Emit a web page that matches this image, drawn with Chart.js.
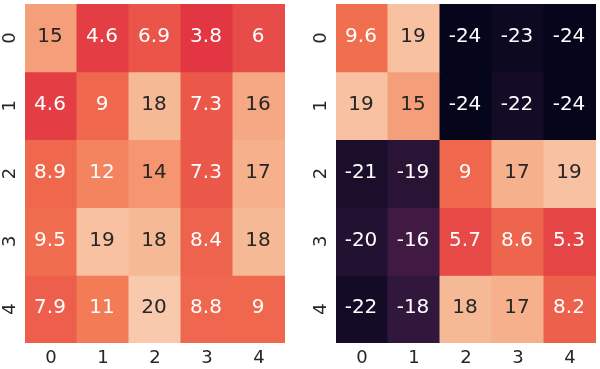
<!DOCTYPE html>
<html>
<head>
<meta charset="utf-8">
<script src="https://cdn.jsdelivr.net/npm/chart.js@4"></script>
<style>
    html, body { margin: 0; padding: 0; background: #fff; }
    .wrap { display: flex; width: 600px; height: 369px; }
    .cell { position: relative; width: 300px; height: 369px; }
</style>
</head>
<body>
<div class="wrap">
    <div class="cell"><canvas id="leftChart"></canvas></div>
    <div class="cell"><canvas id="rightChart"></canvas></div>
</div>
<script>
const colLabels = ['0', '1', '2', '3', '4'];
const rowLabels = ['0', '1', '2', '3', '4'];

const leftValues = [
    [15, 4.6, 6.9, 3.8, 6],
    [4.6, 9, 18, 7.3, 16],
    [8.9, 12, 14, 7.3, 17],
    [9.5, 19, 18, 8.4, 18],
    [7.9, 11, 20, 8.8, 9]
];

const rightValues = [
    [9.6, 19, -24, -23, -24],
    [19, 15, -24, -22, -24],
    [-21, -19, 9, 17, 19],
    [-20, -16, 5.7, 8.6, 5.3],
    [-22, -18, 18, 17, 8.2]
];

// shared colour range for both panels
const vmin = -24.3;
const vmax = 24.3;

// rough "rocket" colormap stops
const rocket = [
    [0.0, [3, 5, 26]],
    [0.143, [53, 25, 62]],
    [0.286, [112, 31, 87]],
    [0.429, [173, 23, 89]],
    [0.571, [225, 51, 66]],
    [0.714, [243, 118, 81]],
    [0.857, [246, 180, 143]],
    [1.0, [250, 235, 221]]
];

function rocketColor(v) {
    let t = (v - vmin) / (vmax - vmin);
    t = Math.max(0, Math.min(1, t));
    for (let i = 1; i < rocket.length; i++) {
        if (t <= rocket[i][0]) {
            const [t0, c0] = rocket[i - 1];
            const [t1, c1] = rocket[i];
            const f = (t - t0) / (t1 - t0);
            return c0.map((c, k) => Math.round(c + (c1[k] - c) * f));
        }
    }
    return rocket[rocket.length - 1][1];
}

function luminance(rgb) {
    const lin = rgb.map(c => {
        c = c / 255;
        return c <= 0.03928 ? c / 12.92 : Math.pow((c + 0.055) / 1.055, 2.4);
    });
    return 0.2126 * lin[0] + 0.7152 * lin[1] + 0.0722 * lin[2];
}

const annotatePlugin = {
    id: 'annotate',
    afterDatasetsDraw(chart) {
        const ctx = chart.ctx;
        ctx.save();
        ctx.font = '20px "DejaVu Sans"';
        ctx.textAlign = 'center';
        ctx.textBaseline = 'middle';
        chart.data.datasets.forEach((ds, i) => {
            const meta = chart.getDatasetMeta(i);
            meta.data.forEach((bar, j) => {
                const v = ds.values[j];
                const rgb = rocketColor(v);
                ctx.fillStyle = luminance(rgb) > 0.408 ? '#262626' : '#ffffff';
                const p = bar.getCenterPoint();
                ctx.fillText(String(v), p.x - 1, p.y - 1);
            });
        });
        ctx.restore();
    }
};

function renderHeatmap(id, values, yWidth, pad) {
    const ctx = document.getElementById(id).getContext('2d');
    const datasets = values.map((row, r) => ({
        label: 'row ' + r,
        data: row.map(() => [r, r + 1]),
        values: row,
        backgroundColor: row.map(v => 'rgb(' + rocketColor(v).join(',') + ')'),
        borderWidth: 0,
        inflateAmount: 0.5,
        grouped: false,
        barPercentage: 1,
        categoryPercentage: 1
    }));

    new Chart(ctx, {
        type: 'bar',
        data: {
            labels: colLabels,
            datasets: datasets
        },
        options: {
            responsive: true,
            maintainAspectRatio: false,
            animation: false,
            layout: { padding: pad },
            plugins: {
                legend: { display: false },
                tooltip: { enabled: false }
            },
            scales: {
                x: {
                    grid: { display: false, drawTicks: false },
                    border: { display: false },
                    ticks: {
                        color: '#262626',
                        font: { family: 'DejaVu Sans', size: 18 },
                        padding: 5
                    },
                    afterFit(scale) {
                        scale.height = 26;
                        scale.paddingLeft = 0;
                        scale.paddingRight = 0;
                    }
                },
                y: {
                    reverse: true,
                    min: 0,
                    max: 5,
                    grid: { display: false, drawTicks: false },
                    border: { display: false },
                    afterBuildTicks(scale) {
                        scale.ticks = rowLabels.map((l, i) => ({ value: i + 0.5 }));
                    },
                    ticks: {
                        color: '#262626',
                        font: { family: 'DejaVu Sans', size: 18 },
                        minRotation: 90,
                        maxRotation: 90,
                        crossAlign: 'center',
                        padding: 9,
                        callback: (v) => rowLabels[Math.floor(v)]
                    },
                    afterFit(scale) {
                        scale.width = yWidth;
                        scale.paddingTop = 0;
                        scale.paddingBottom = 0;
                    }
                }
            }
        },
        plugins: [annotatePlugin]
    });
}

renderHeatmap('leftChart', leftValues, 25, { top: 4, right: 15, bottom: 0, left: 0 });
renderHeatmap('rightChart', rightValues, 36, { top: 4, right: 4, bottom: 0, left: 0 });
</script>
</body>
</html>
